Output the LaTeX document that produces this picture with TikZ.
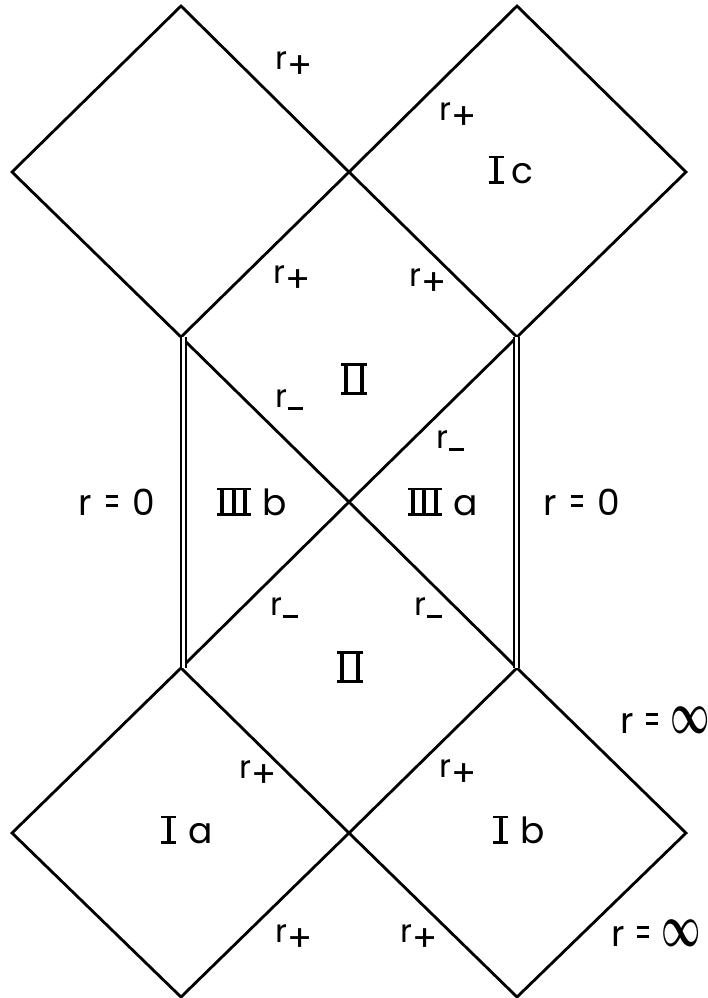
\RequirePackage{fix-cm}
\documentclass[tikz,border=0pt]{standalone}
\usepackage{fontspec}
\usepackage{graphicx}
\setmainfont{Poppins}
\newcommand\rplus{r\kern0.5pt\raisebox{-9pt}{\scalebox{1.15}{+}}}
\newcommand\rminus{r\kern0.5pt\raisebox{-3pt}{\rule{15pt}{2.6pt}}}
% Roman numerals with joined serif bars
\newcommand\romI{\hbox{\rlap{\rule{15pt}{2.6pt}}\rlap{\raisebox{25.4pt}{\rule{15pt}{2.6pt}}}\hspace{5.5pt}\rule{4pt}{28pt}\hspace{5.5pt}}}
\newcommand\romII{\hbox{\rlap{\rule{26pt}{3pt}}\rlap{\raisebox{29pt}{\rule{26pt}{3pt}}}\hspace{3pt}\rule{4.2pt}{32pt}\hspace{11.6pt}\rule{4.2pt}{32pt}\hspace{3pt}}}
\newcommand\romIII{\hbox{\rlap{\rule{34pt}{2.6pt}}\rlap{\raisebox{25.4pt}{\rule{34pt}{2.6pt}}}\hspace{3pt}\rule{4pt}{28pt}\hspace{7.5pt}\rule{4pt}{28pt}\hspace{7.5pt}\rule{4pt}{28pt}\hspace{3pt}}}
\newcommand\infsym{\scalebox{0.95}[1.65]{\boldmath$\infty$}}
\newcommand\eqs{\hbox{\rlap{\raisebox{8pt}{\rule{12pt}{3pt}}}\raisebox{17pt}{\rule{12pt}{3pt}}}}
\begin{document}
\begin{tikzpicture}[x=1pt,y=-1pt,
  edge/.style={line width=2.8pt, line join=miter, line cap=round},
  sing/.style={double, line width=1.4pt, double distance=3.4pt},
  lab/.style={font=\fontsize{32}{34}\selectfont, inner sep=0pt, anchor=base west},
  big/.style={font=\fontsize{36}{40}\selectfont, inner sep=0pt},
  bnd/.style={font=\fontsize{36}{40}\selectfont, inner sep=0pt, anchor=base west}]
\useasboundingbox (0,0) rectangle (708,998);
% grid points
\coordinate (tl-t) at (181,6);
\coordinate (tl-l) at (12,172);
\coordinate (c-t) at (349,172);
\coordinate (tr-t) at (517,6);
\coordinate (tr-r) at (686,172);
\coordinate (l-u) at (181,337);
\coordinate (r-u) at (517,337);
\coordinate (ctr) at (349,502);
\coordinate (l-d) at (181,668);
\coordinate (r-d) at (517,668);
\coordinate (c-b) at (349,833);
\coordinate (bl-l) at (12,833);
\coordinate (br-r) at (686,833);
\coordinate (bl-b) at (181,997);
\coordinate (br-b) at (517,997);
\coordinate (sl-u) at (183.5,337);
\coordinate (sl-d) at (183.5,668);
\coordinate (sr-u) at (516.5,337);
\coordinate (sr-d) at (516.5,668);
% diamonds
\draw[edge] (tl-t) -- (c-t) -- (l-u) -- (tl-l) -- cycle;
\draw[edge] (tr-t) -- (tr-r) -- (r-u) -- (c-t) -- cycle;
\draw[edge] (l-u) -- (ctr) -- (r-d);
\draw[edge] (r-u) -- (ctr) -- (l-d);
\draw[edge] (l-d) -- (c-b) -- (bl-b) -- (bl-l) -- cycle;
\draw[edge] (r-d) -- (br-r) -- (br-b) -- (c-b) -- cycle;
% singularities r=0
\draw[sing] (sl-u) -- (sl-d);
\draw[sing] (sr-u) -- (sr-d);
% horizon labels
\node[lab] (h1) at (275,70) {\rplus};
\node[lab] (h2) at (439,120) {\rplus};
\node[lab] (h3) at (273,283) {\rplus};
\node[lab] (h4) at (409,286) {\rplus};
\node[lab] (m1) at (275,407) {\rminus};
\node[lab] (m2) at (436,448) {\rminus};
\node[lab] (m3) at (270,615) {\rminus};
\node[lab] (m4) at (414,615) {\rminus};
\node[lab] (h5) at (239,778) {\rplus};
\node[lab] (h6) at (439,777) {\rplus};
\node[lab] (h7) at (275,942) {\rplus};
\node[lab] (h8) at (400,942) {\rplus};
% region labels
\node[big] (Ic) at (511,170) {\romI\hspace{8pt}c};
\node[big] (IIu) at (354,379) {\romII};
\node[big] (IIIb) at (252,502) {\romIII\hspace{12pt}b};
\node[big] (IIIa) at (443,502) {\romIII\hspace{13pt}a};
\node[big] (IId) at (350,667) {\romII};
\node[big] (Ia) at (187,830) {\romI\hspace{12pt}a};
\node[big] (Ib) at (519,830) {\romI\hspace{12pt}b};
% boundary labels
\node[bnd] (z1) at (78,515) {r\hspace{14pt}\eqs\hspace{15pt}0};
\node[bnd] (z2) at (543,515) {r\hspace{14pt}\eqs\hspace{15pt}0};
\node[bnd] (i1) at (620,733) {r\hspace{12pt}\eqs\hspace{13pt}\infsym};
\node[bnd] (i2) at (611,946) {r\hspace{12pt}\eqs\hspace{13pt}\infsym};
\end{tikzpicture}
\end{document}
